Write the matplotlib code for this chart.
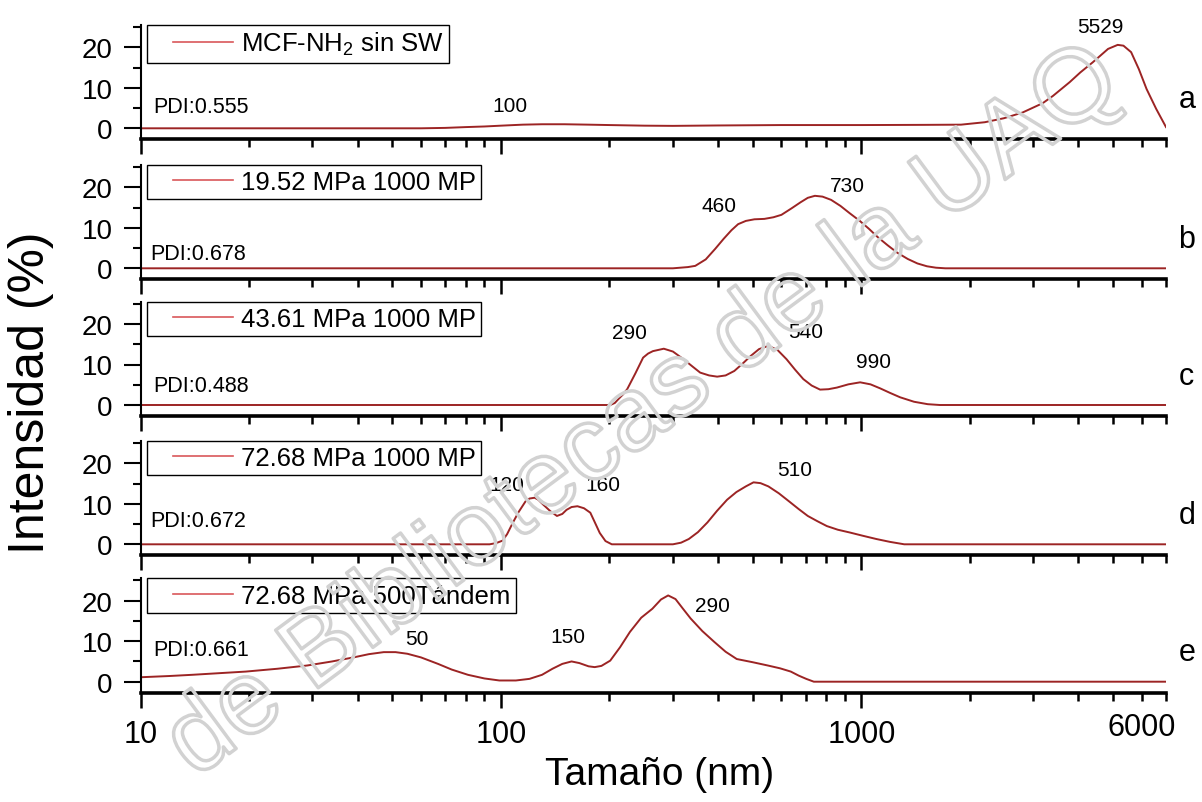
import numpy as np
import matplotlib
matplotlib.use('Agg')
import matplotlib.pyplot as plt
from matplotlib.ticker import FixedLocator, NullFormatter, FuncFormatter
from matplotlib.legend_handler import HandlerLine2D
from matplotlib.transforms import blended_transform_factory
from matplotlib import patheffects

plt.rcParams['font.family'] = ['Liberation Sans', 'DejaVu Sans']
plt.rcParams['mathtext.fontset'] = 'custom'
plt.rcParams['mathtext.rm'] = 'Liberation Sans'
plt.rcParams['mathtext.it'] = 'Liberation Sans:italic'

# ---------------- data ----------------
labels = ["MCF-NH$_2$ sin SW", "19.52 MPa 1000 MP", "43.61 MPa 1000 MP",
          "72.68 MPa 1000 MP", "72.68 MPa 500Tándem"]
letters = ["a", "b", "c", "d", "e"]
pdi = ["PDI:0.555", "PDI:0.678", "PDI:0.488", "PDI:0.672", "PDI:0.661"]

x_a = [10, 30, 60, 70, 80, 90, 100, 115, 130, 150, 175, 200, 250, 300, 400,
       600, 1000, 1500, 1890, 2200, 2489, 2800, 3184, 3400, 3784, 4050, 4385,
       4834, 5141, 5334, 5602, 5886, 6183, 6574, 7000]
y_a = [0, 0, 0, 0.1, 0.3, 0.45, 0.65, 0.9, 1.0, 1.0, 0.9, 0.8, 0.65, 0.6, 0.7,
       0.8, 0.8, 0.85, 0.9, 1.5, 2.5, 3.9, 6.2, 8.0, 11.4, 13.8, 16.3,
       19.6, 20.6, 20.4, 18.8, 14.6, 9.7, 4.8, 0.3]

x_b = [10, 300, 330, 346, 370, 393, 415, 436, 455, 478, 505, 538, 570, 600,
       640, 678, 710, 743, 780, 824, 875, 928, 990, 1048, 1110, 1182, 1260,
       1345, 1430, 1520, 1610, 1710, 7000]
y_b = [0, 0, 0.3, 0.6, 2.2, 4.8, 7.3, 9.4, 10.9, 11.7, 12.1, 12.2, 12.6, 13.2,
       14.8, 16.3, 17.4, 17.9, 17.7, 16.9, 15.4, 13.6, 11.7, 9.8, 7.7, 5.7, 3.8,
       2.3, 1.2, 0.5, 0.15, 0, 0]

x_c = [10, 201, 207, 212, 218, 224, 236, 248, 256, 264, 283, 300, 321, 340,
       357, 378, 398, 420, 444, 468, 493, 520, 552, 585, 620, 655, 690, 728,
       768, 810, 855, 920, 992, 1060, 1128, 1200, 1281, 1400, 1528, 1650, 7000]
y_c = [0, 0, 0.5, 1.5, 2.6, 3.9, 7.8, 11.7, 12.7, 13.3, 13.9, 13.2, 11.3, 9.5,
       8.0, 7.3, 7.0, 7.3, 8.4, 10.2, 12.1, 13.8, 14.6, 13.6, 11.3, 8.7, 6.4, 4.8,
       3.8, 3.9, 4.3, 5.1, 5.6, 5.1, 4.1, 3.0, 1.9, 0.8, 0.2, 0, 0]

x_d = [10, 93, 97, 101, 104, 108, 112, 117, 120, 124, 127, 131, 137, 143, 148,
       152, 157, 163, 170, 177, 182, 188, 195, 203, 300, 316, 332, 352, 374,
       398, 424, 450, 478, 502, 525, 552, 590, 630, 670, 710, 755, 802, 860,
       930, 1010, 1101, 1200, 1315, 7000]
y_d = [0, 0, 0.3, 0.9, 2.5, 5.4, 8.0, 10.6, 11.3, 11.5, 11.0, 9.8, 8.2, 7.0, 7.5,
       8.5, 9.2, 9.4, 8.9, 7.8, 5.5, 2.8, 0.8, 0, 0, 0.4, 1.3, 3.0, 5.4,
       8.3, 11.0, 12.9, 14.3, 15.3, 15.1, 14.3, 12.6, 10.6, 8.7, 7.0, 5.7, 4.5, 3.6,
       2.9, 2.1, 1.3, 0.6, 0, 0]

x_e = [10, 12, 13.9, 16.5, 19.6, 24, 29, 34, 39, 43, 47.3, 51, 55, 60, 66.9,
       73, 81, 90, 99, 110, 120, 130, 139, 148, 157, 165, 175, 182, 190, 201,
       214, 228, 245, 263, 278, 291, 305, 320, 336, 362, 391, 420, 451, 500,
       550, 595, 637, 670, 703, 738, 7000]
y_e = [1.1, 1.4, 1.7, 2.1, 2.5, 3.2, 4.0, 5.0, 6.0, 6.8, 7.3, 7.3, 6.9, 6.0, 4.4,
       3.0, 1.7, 0.8, 0.3, 0.3, 0.7, 1.7, 3.2, 4.4, 5.0, 4.6, 3.8, 3.6, 3.9, 5.2,
       8.5, 12.3, 15.8, 18.0, 20.3, 21.3, 20.4, 18.0, 15.6, 12.5, 9.8, 7.4, 5.6, 4.8,
       4.0, 3.3, 2.5, 1.5, 0.7, 0, 0]

xs = [x_a, x_b, x_c, x_d, x_e]
ys = [y_a, y_b, y_c, y_d, y_e]

peak_text = [["100", "5529"], ["460", "730"], ["290", "540", "990"],
             ["120", "160", "510"], ["50", "150", "290"]]

# ---------------- layout ----------------
peak_pos = [[(106, 4.2), (4600, 23.7)],
            [(403, 14.1), (915, 19.0)],
            [(227, 16.6), (700, 16.9), (1081, 9.3)],
            [(103.5, 13.5), (192, 13.5), (652, 17.1)],
            [(58.6, 9.3), (153, 9.8), (385, 17.5)]]
pdi_pos = [(10.87, 4.1), (10.66, 2.3), (10.87, 3.5), (10.66, 4.4), (10.87, 6.5)]

W, H = 1202, 803
zero_px = [129.3, 269.3, 406.0, 545.3, 682.7]
ppu = 4.05
ylo, yhi = -2.7, 25.5
left_px, right_px = 140.5, 1166.0

line_color = '#9c2424'

fig = plt.figure(figsize=(W / 100, H / 100), dpi=100)

for i in range(5):
    bot = zero_px[i] - ylo * ppu
    top = zero_px[i] - yhi * ppu
    ax = fig.add_axes([left_px / W, 1 - bot / H, (right_px - left_px) / W, (bot - top) / H])
    ln, = ax.plot(xs[i], ys[i], color=line_color, lw=1.4, label=labels[i])
    ax.set_xscale('log')
    ax.set_xlim(10, 7000)
    ax.set_ylim(ylo, yhi)

    for s in ['top', 'right']:
        ax.spines[s].set_visible(False)
    ax.spines['left'].set_linewidth(1.5)
    ax.spines['bottom'].set_linewidth(2.6)

    ax.yaxis.set_major_locator(FixedLocator([0, 10, 20]))
    ax.yaxis.set_minor_locator(FixedLocator([5, 15, 25]))
    ax.tick_params(axis='y', which='major', length=12, width=1.5, labelsize=20, pad=8)
    ax.tick_params(axis='y', which='minor', length=6, width=1.5)

    ax.xaxis.set_major_locator(FixedLocator([10, 100, 1000]))
    minor = [m * d for d in (10, 100, 1000) for m in range(2, 10) if m * d <= 7000]
    ax.xaxis.set_minor_locator(FixedLocator(minor))
    ax.tick_params(axis='x', which='major', length=11, width=1.8, labelsize=22, pad=8)
    ax.tick_params(axis='x', which='minor', length=6, width=1.8, labelsize=22, pad=8)
    if i < 4:
        ax.xaxis.set_major_formatter(NullFormatter())
        ax.xaxis.set_minor_formatter(NullFormatter())
    else:
        ax.xaxis.set_major_formatter(FuncFormatter(lambda v, p: '%d' % v))
        ax.xaxis.set_minor_formatter(FuncFormatter(lambda v, p: '6000' if abs(v - 6000) < 1 else ''))

    leg = ax.legend(handles=[ln], loc='upper left', bbox_to_anchor=(0.006, 1.0),
                    borderaxespad=0, fontsize=18.5, frameon=True, fancybox=False,
                    edgecolor='black', framealpha=1, borderpad=0.2,
                    handlelength=3.15, handletextpad=0.33,
                    handler_map={ln: HandlerLine2D(xpad=0.82)})
    leg.get_frame().set_linewidth(1.0)
    leg.get_lines()[0].set_color('#d9585a')
    leg.get_lines()[0].set_linewidth(1.2)

    ax.text(pdi_pos[i][0], pdi_pos[i][1], pdi[i], fontsize=15.5, ha='left', va='baseline')
    for t, (px, py) in zip(peak_text[i], peak_pos[i]):
        ax.text(px, py, t, fontsize=15, ha='center', va='baseline')

    tr = blended_transform_factory(ax.transAxes, ax.transData)
    ax.text(1.012, 5.3, letters[i], transform=tr, fontsize=22, ha='left', va='baseline')

fig.text(31 / W, 1 - 393 / H, 'Intensidad (%)', rotation=90, ha='center', va='center', fontsize=36)
fig.text(660 / W, 1 - 775 / H, 'Tamaño (nm)', ha='center', va='center', fontsize=28)

# watermark (visible part only)
wm = fig.text(195 / W, 1 - 780 / H, 'de Bibliotecas de la UAQ',
              rotation=36.5, rotation_mode='anchor', ha='left', va='baseline',
              fontsize=75, color='none', zorder=10)
wm.set_path_effects([patheffects.Stroke(linewidth=2.5, foreground='#d2d2d2')])

fig.savefig('out.png', dpi=100)
